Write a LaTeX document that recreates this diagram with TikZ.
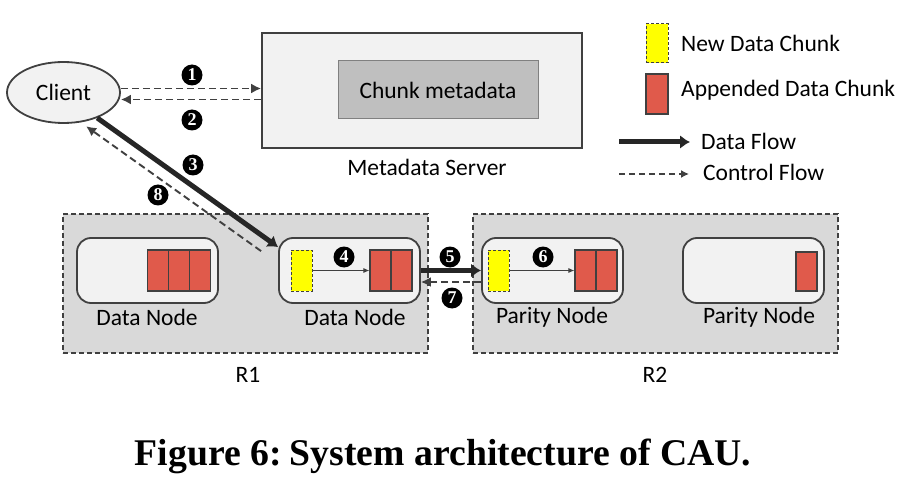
\documentclass[tikz,border=0pt]{standalone}
\usepackage{fontspec}
\setmainfont{Carlito}
\newfontfamily\capfont{Liberation Serif}
\usetikzlibrary{shapes.geometric,arrows.meta}
\definecolor{edge}{HTML}{404040}
\definecolor{darkline}{HTML}{262626}
\definecolor{regfill}{HTML}{D9D9D9}
\definecolor{boxfill}{HTML}{F2F2F2}
\definecolor{metafill}{HTML}{BFBFBF}
\definecolor{chunkred}{HTML}{E05A4B}
\definecolor{chunkyel}{HTML}{FFFF00}
\tikzset{
  region/.style={draw=edge, fill=regfill, line width=1.2pt, dash pattern=on 5pt off 3pt, minimum width=365pt, minimum height=139pt, inner sep=0pt},
  nodebox/.style={draw=edge, fill=boxfill, line width=1.8pt, rounded corners=14pt, minimum width=141pt, minimum height=65pt, inner sep=0pt},
  redchunk/.style={draw=edge, fill=chunkred, line width=1.2pt, minimum width=21pt, minimum height=41pt, inner sep=0pt},
  yelchunk/.style={draw=edge, fill=chunkyel, line width=1pt, dash pattern=on 3pt off 2pt, minimum width=21pt, minimum height=41pt, inner sep=0pt},
  num/.style={circle, fill=black, text=white, inner sep=0pt, minimum size=21pt, font=\capfont\bfseries\fontsize{18}{18}\selectfont},
  ctrl/.style={draw=edge, line width=1.9pt, dash pattern=on 7pt off 4pt, -{Latex[length=10pt,width=10pt]}},
  dataflow/.style={draw=darkline, line width=5pt, -{Latex[length=10pt,width=14pt]}},
  innerarrow/.style={draw=edge, line width=0.8pt, -{Latex[length=6pt,width=5pt]}},
  lbl/.style={inner sep=0pt}
}
\begin{document}
\begin{tikzpicture}[x=1pt,y=-1pt,font=\fontsize{23.5}{28}\selectfont]
\useasboundingbox[fill=white] (0,0) rectangle (903,484);

% Client and metadata server
\node[ellipse, draw=edge, fill=boxfill, line width=1.8pt, minimum width=113pt, minimum height=61pt, inner sep=0pt] (client) at (63.5,92.5) {Client};
\node[draw=edge, fill=boxfill, line width=1.8pt, minimum width=320pt, minimum height=115pt, inner sep=0pt] (mds) at (422,90.5) {};
\node[draw=gray, fill=metafill, line width=1pt, minimum width=200pt, minimum height=58pt, inner sep=0pt] (meta) at (438,90) {Chunk metadata};
\node[lbl] (mdslbl) at (427,167) {Metadata Server};

% Regions
\node[region] (r1) at (245.5,283.5) {};
\node[region] (r2) at (655.5,283.5) {};
\node[lbl] (r1lbl) at (248,375) {R1};
\node[lbl] (r2lbl) at (655,375) {R2};

% Nodes
\node[nodebox] (dn1) at (147.5,270.5) {};
\node[nodebox] (dn2) at (349.5,270.5) {};
\node[nodebox] (pn1) at (552.5,270.5) {};
\node[nodebox] (pn2) at (753.5,270.5) {};
\node[lbl] (dn1lbl) at (147,317) {Data Node};
\node[lbl] (dn2lbl) at (355,317) {Data Node};
\node[lbl] (pn1lbl) at (552,317) {Parity Node};
\node[lbl] (pn2lbl) at (759,317) {Parity Node};

% Chunks
\node[redchunk] (a1) at (158,270.5) {};
\node[redchunk] (a2) at (179,270.5) {};
\node[redchunk] (a3) at (200,270.5) {};
\node[yelchunk] (y1) at (301.5,270.5) {};
\node[redchunk] (b1) at (380.5,270.5) {};
\node[redchunk] (b2) at (401.5,270.5) {};
\node[yelchunk] (y2) at (498.5,270.5) {};
\node[redchunk] (c1) at (585.5,270.5) {};
\node[redchunk] (c2) at (606.5,270.5) {};
\node[redchunk, minimum height=39pt] (d1) at (806.5,271.5) {};

\draw[innerarrow] (y1.east) -- (b1.west);
\draw[innerarrow] (y2.east) -- (c1.west);

% Flows
\draw[ctrl] ([yshift=4pt]client.east) -- ([yshift=4pt]client.east -| mds.west);
\draw[ctrl] ([yshift=-7pt]client.east -| mds.west) -- ([yshift=-7pt]client.east);
\draw[dataflow] (client.-37) -- ([yshift=-10pt]dn2.north west);
\draw[ctrl] ([shift={(-17pt,-14pt)}]dn2.north west) -- ([shift={(4pt,-4pt)}]client.-58);
\draw[dataflow] (dn2.east) -- (pn1.west);
\draw[ctrl] ([yshift=-11.5pt]pn1.west) -- ([yshift=-11.5pt]dn2.east);

% Step numbers
\node[num] (n1) at (192,75) {1};
\node[num] (n2) at (192,120) {2};
\node[num] (n3) at (193,165) {3};
\node[num] (n8) at (158,195) {8};
\node[num] (n4) at (344,257) {4};
\node[num] (n5) at (450,257) {5};
\node[num] (n7) at (452,298) {7};
\node[num] (n6) at (543,257) {6};

% Legend
\node[yelchunk, minimum width=22pt, minimum height=39pt] (lgy) at (657,43.5) {};
\node[redchunk, minimum width=22pt, minimum height=40pt] (lgr) at (657,94) {};
\node[lbl, anchor=west] (lgyt) at (681,43) {New Data Chunk};
\node[lbl, anchor=west] (lgrt) at (681,90) {Appended Data Chunk};
\coordinate (df1) at (619,142);
\coordinate (df2) at (690,142);
\coordinate (cf1) at (619,174);
\coordinate (cf2) at (689,174);
\draw[dataflow] (df1) -- (df2);
\draw[ctrl, line width=1.5pt, dash pattern=on 6pt off 4pt, -{Latex[length=8pt,width=8pt]}] (cf1) -- (cf2);
\node[lbl, anchor=west] (dft) at (701,141) {Data Flow};
\node[lbl, anchor=west] (cft) at (703,172) {Control Flow};

% Caption
\node[lbl, font=\capfont\bfseries\fontsize{37.7}{40}\selectfont] (cap) at (443,456) {Figure 6:\hspace{-0.12em} System architecture of CAU.};
\end{tikzpicture}
\end{document}
